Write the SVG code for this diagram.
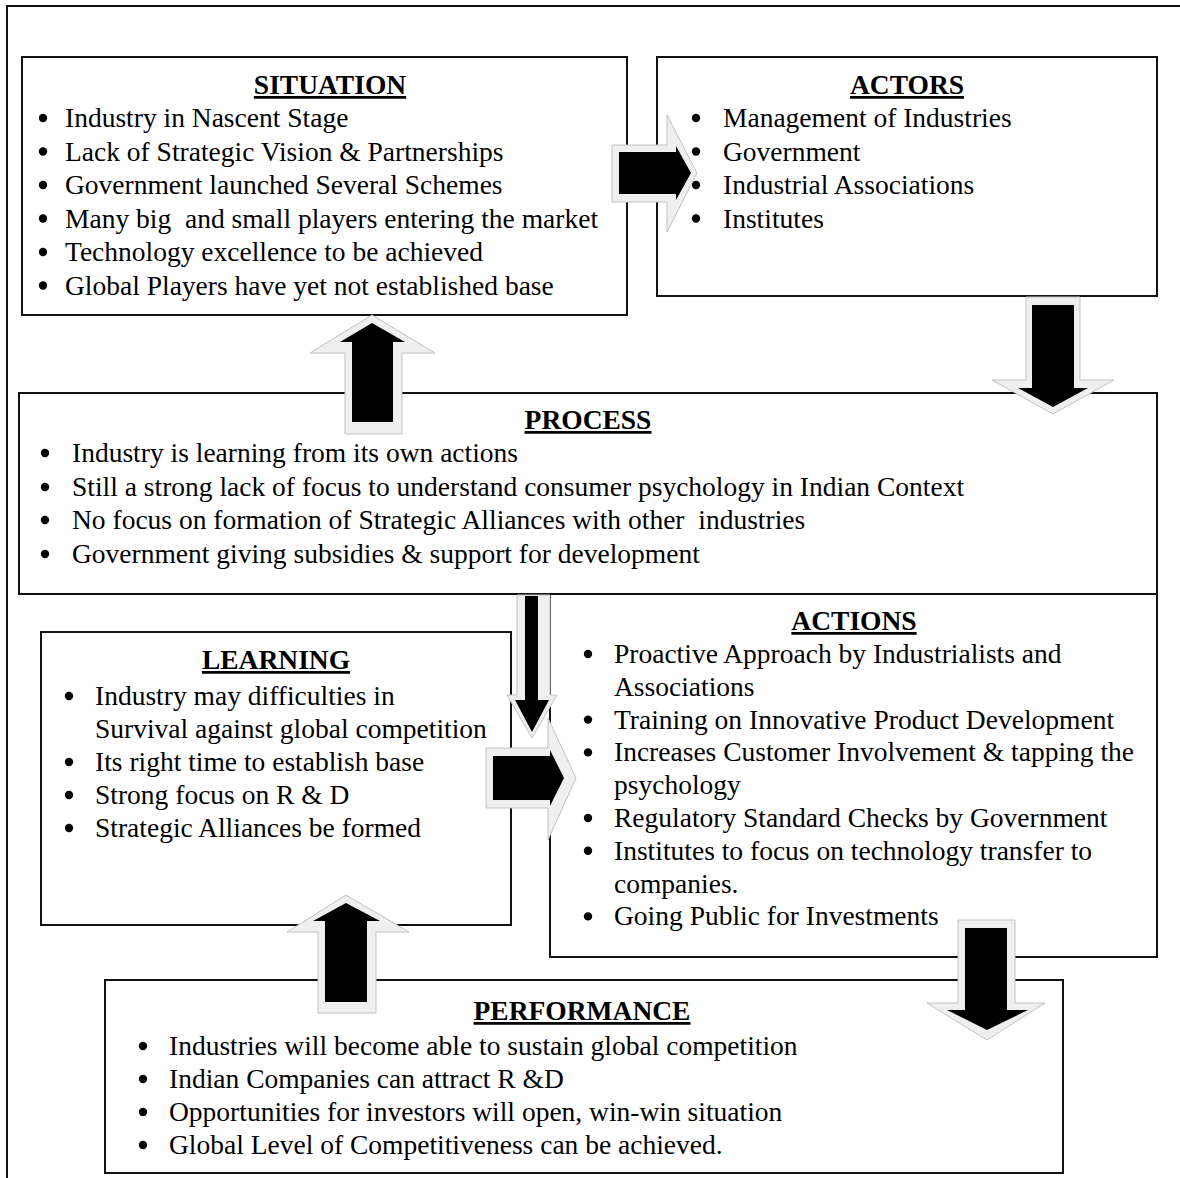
<svg xmlns="http://www.w3.org/2000/svg" width="1180" height="1178" viewBox="0 0 1180 1178">
  <style>
    .frame { fill: none; stroke: #111; stroke-width: 2; }
    .box { fill: #fff; stroke: #111; stroke-width: 2; }
    .t { font-family: "Liberation Serif", "Times New Roman", serif; font-size: 27.5px; fill: #000; }
    .h { font-weight: bold; text-decoration: underline; text-anchor: middle; }
    .dot { fill: #000; }
    .halo { fill: #efefef; stroke: #c2c2c2; stroke-width: 1; }
    .core { fill: #000; }
  </style>

  <rect width="1180" height="1178" fill="#fff"/>
  <path class="frame" d="M7,1178 V6 H1180"/>

  <!-- SITUATION -->
  <g id="situation">
    <rect class="box" x="22" y="57" width="605" height="258"/>
    <text class="t h" x="330" y="94">SITUATION</text>
    <g class="dot">
      <circle cx="43" cy="118" r="4.2"/><circle cx="43" cy="151.5" r="4.2"/>
      <circle cx="43" cy="185" r="4.2"/><circle cx="43" cy="218.5" r="4.2"/>
      <circle cx="43" cy="252" r="4.2"/><circle cx="43" cy="285.5" r="4.2"/>
    </g>
    <text class="t" x="65" y="127">Industry in Nascent Stage</text>
    <text class="t" x="65" y="160.5">Lack of Strategic Vision &amp; Partnerships</text>
    <text class="t" x="65" y="194">Government launched Several Schemes</text>
    <text class="t" x="65" y="227.5" xml:space="preserve">Many big  and small players entering the market</text>
    <text class="t" x="65" y="261">Technology excellence to be achieved</text>
    <text class="t" x="65" y="294.5">Global Players have yet not established base</text>
  </g>

  <!-- ACTORS -->
  <g id="actors">
    <rect class="box" x="657" y="57" width="500" height="239"/>
    <text class="t h" x="907" y="94">ACTORS</text>
    <g class="dot">
      <circle cx="696" cy="118" r="4.2"/><circle cx="696" cy="151.5" r="4.2"/>
      <circle cx="696" cy="185" r="4.2"/><circle cx="696" cy="218.5" r="4.2"/>
    </g>
    <text class="t" x="723" y="127">Management of Industries</text>
    <text class="t" x="723" y="160.5">Government</text>
    <text class="t" x="723" y="194">Industrial Associations</text>
    <text class="t" x="723" y="227.5">Institutes</text>
  </g>

  <!-- ACTIONS -->
  <g id="actions">
    <rect class="box" x="550" y="594" width="607" height="363"/>
    <text class="t h" x="854" y="630">ACTIONS</text>
    <g class="dot">
      <circle cx="588" cy="654" r="4.2"/><circle cx="588" cy="719.6" r="4.2"/>
      <circle cx="588" cy="752.4" r="4.2"/><circle cx="588" cy="818" r="4.2"/>
      <circle cx="588" cy="850.8" r="4.2"/><circle cx="588" cy="916.4" r="4.2"/>
    </g>
    <text class="t" x="614" y="663">Proactive Approach by Industrialists and</text>
    <text class="t" x="614" y="695.8">Associations</text>
    <text class="t" x="614" y="728.6">Training on Innovative Product Development</text>
    <text class="t" x="614" y="761.4">Increases Customer Involvement &amp; tapping the</text>
    <text class="t" x="614" y="794.2">psychology</text>
    <text class="t" x="614" y="827">Regulatory Standard Checks by Government</text>
    <text class="t" x="614" y="859.8">Institutes to focus on technology transfer to</text>
    <text class="t" x="614" y="892.6">companies.</text>
    <text class="t" x="614" y="925.4">Going Public for Investments</text>
  </g>

  <!-- PROCESS -->
  <g id="process">
    <rect class="box" x="19" y="393" width="1138" height="201"/>
    <text class="t h" x="588" y="429">PROCESS</text>
    <g class="dot">
      <circle cx="45" cy="453" r="4.2"/><circle cx="45" cy="487" r="4.2"/>
      <circle cx="45" cy="520" r="4.2"/><circle cx="45" cy="554" r="4.2"/>
    </g>
    <text class="t" x="72" y="462">Industry is learning from its own actions</text>
    <text class="t" x="72" y="496">Still a strong lack of focus to understand consumer psychology in Indian Context</text>
    <text class="t" x="72" y="529" xml:space="preserve">No focus on formation of Strategic Alliances with other  industries</text>
    <text class="t" x="72" y="563">Government giving subsidies &amp; support for development</text>
  </g>

  <!-- LEARNING -->
  <g id="learning">
    <rect class="box" x="41" y="632" width="470" height="293"/>
    <text class="t h" x="276" y="669">LEARNING</text>
    <g class="dot">
      <circle cx="69" cy="696" r="4.2"/><circle cx="69" cy="762" r="4.2"/>
      <circle cx="69" cy="795" r="4.2"/><circle cx="69" cy="828" r="4.2"/>
    </g>
    <text class="t" x="95" y="705">Industry may difficulties in</text>
    <text class="t" x="95" y="738">Survival against global competition</text>
    <text class="t" x="95" y="771">Its right time to establish base</text>
    <text class="t" x="95" y="804">Strong focus on R &amp; D</text>
    <text class="t" x="95" y="837">Strategic Alliances be formed</text>
  </g>

  <!-- PERFORMANCE -->
  <g id="performance">
    <rect class="box" x="105" y="980" width="958" height="193"/>
    <text class="t h" x="582" y="1020">PERFORMANCE</text>
    <g class="dot">
      <circle cx="143" cy="1046" r="4.2"/><circle cx="143" cy="1079" r="4.2"/>
      <circle cx="143" cy="1112" r="4.2"/><circle cx="143" cy="1145" r="4.2"/>
    </g>
    <text class="t" x="169" y="1055">Industries will become able to sustain global competition</text>
    <text class="t" x="169" y="1088">Indian Companies can attract R &amp;D</text>
    <text class="t" x="169" y="1121">Opportunities for investors will open, win-win situation</text>
    <text class="t" x="169" y="1154">Global Level of Competitiveness can be achieved.</text>
  </g>

  <!-- block arrows: light halo shape behind a solid black arrow -->
  <g id="connectors">
    <!-- situation to actors -->
    <polygon class="halo" points="612,145 667,145 667,115 697,173 667,232 667,202 612,202"/>
    <polygon class="core" points="619,152 676,152 676,146 691,173 676,200 676,194 619,194"/>
    <!-- actors to process -->
    <polygon class="halo" points="1026,297 1080,297 1080,380 1114,380 1053,414 992,380 1026,380"/>
    <polygon class="core" points="1032,305 1074,305 1074,388 1088,388 1053,407 1018,388 1032,388"/>
    <!-- process to situation -->
    <polygon class="halo" points="372,315 435,353 402,353 402,434 345,434 345,353 310,353"/>
    <polygon class="core" points="372,323 405,342 393,342 393,422 352,422 352,342 340,342"/>
    <!-- process down -->
    <polygon class="halo" points="517,595 550,595 550,695 557,695 532,738 507,695 517,695"/>
    <polygon class="core" points="525,596 538,596 538,700 549,700 532,732 515,700 525,700"/>
    <!-- into actions -->
    <polygon class="halo" points="486,748 548,748 548,718 576,778 548,840 548,808 486,808"/>
    <polygon class="core" points="493,756 550,756 550,750 564,778 550,806 550,800 493,800"/>
    <!-- performance to learning -->
    <polygon class="halo" points="346,895 409,932 376,932 376,1013 318,1013 318,932 287,932"/>
    <polygon class="core" points="346,903 380,921 367,921 367,1002 325,1002 325,921 313,921"/>
    <!-- actions to performance -->
    <polygon class="halo" points="958,920 1015,920 1015,1003 1045,1003 987,1040 927,1003 958,1003"/>
    <polygon class="core" points="965,928 1007,928 1007,1010 1028,1010 987,1030 947,1010 965,1010"/>
  </g>
</svg>
